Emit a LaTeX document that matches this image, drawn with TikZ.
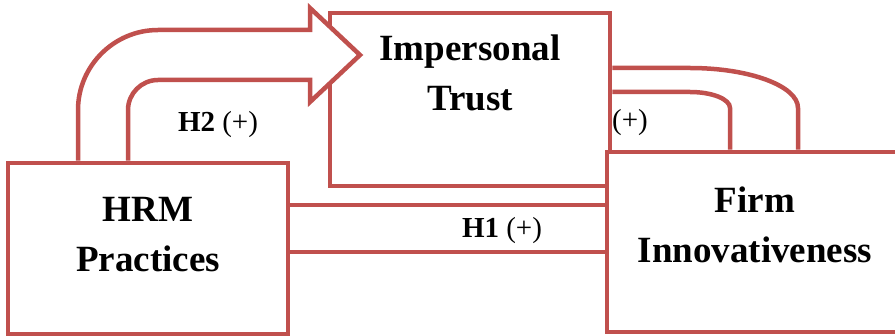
\documentclass[tikz,border=0pt]{standalone}
\usepackage{fontspec}
\setmainfont{Liberation Serif}
\definecolor{boxred}{RGB}{192,80,77}
\tikzset{
  box/.style={draw=boxred, line width=4.5pt, fill=white, inner sep=0pt, rectangle},
  conn/.style={draw=boxred, line width=4.5pt, line join=miter},
  maintext/.style={font=\fontsize{37}{50}\selectfont\bfseries, align=center, inner sep=0pt, text=black},
  lbl/.style={font=\fontsize{29}{34}\selectfont, inner sep=0pt, anchor=base, text=black}
}
\begin{document}
\begin{tikzpicture}[x=1pt,y=-1pt]
\useasboundingbox (0,0) rectangle (895,336);
\clip (0,0) rectangle (895,336);
% boxes
\node[box, minimum width=280pt, minimum height=171pt] (hrm) at (148,248.5) {};
\node[box, minimum width=280pt, minimum height=173pt] (trust) at (470,99.5) {};
% H2 block arrow
\coordinate (o1) at (hrm.north -| 78,0);
\coordinate (i1) at (hrm.north -| 128,0);
\fill[white] (o1) -- (78,110) .. controls (78,66) and (114,30) .. (158,30)
  -- (310,30) -- (310,8) -- (360,55) -- (310,102) -- (310,80) -- (158,80)
  .. controls (141.5,80) and (128,93.5) .. (128,110) -- (i1) -- cycle;
\draw[conn] (o1) -- (78,110) .. controls (78,66) and (114,30) .. (158,30)
  -- (310,30) -- (310,8) -- (360,55) -- (310,102) -- (310,80) -- (158,80)
  .. controls (141.5,80) and (128,93.5) .. (128,110) -- (i1);
\node[box, minimum width=298pt, minimum height=180pt] (firm) at (756,242) {};
% feedback block arrow Firm -> Trust
\draw[conn] (trust.east |- 0,68) -- (690,68) .. controls (749.6,68) and (798,86) .. (798,108) -- (firm.north -| 798,0);
\draw[conn] (trust.east |- 0,92) -- (690,92) .. controls (712,92) and (730,99) .. (730,108) -- (firm.north -| 730,0);
% H1 block arrow
\draw[conn] (hrm.east |- 0,205) -- (firm.west |- 0,205);
\draw[conn] (hrm.east |- 0,252) -- (firm.west |- 0,252);
% texts
\node[maintext, anchor=north] (ttext) at (470,35) {Impersonal\\Trust};
\node[maintext, anchor=north] (htext) at (148,197) {HRM\\Practices};
\node[maintext, anchor=north] (ftext) at (755,187) {Firm\\Innovativeness};
\node[lbl] (h2) at (218,132) {\textbf{H2} (+)};
\node[lbl] (h1) at (502,238) {\textbf{H1} (+)};
\node[lbl] (h3) at (630,130) {(+)};
\end{tikzpicture}
\end{document}
